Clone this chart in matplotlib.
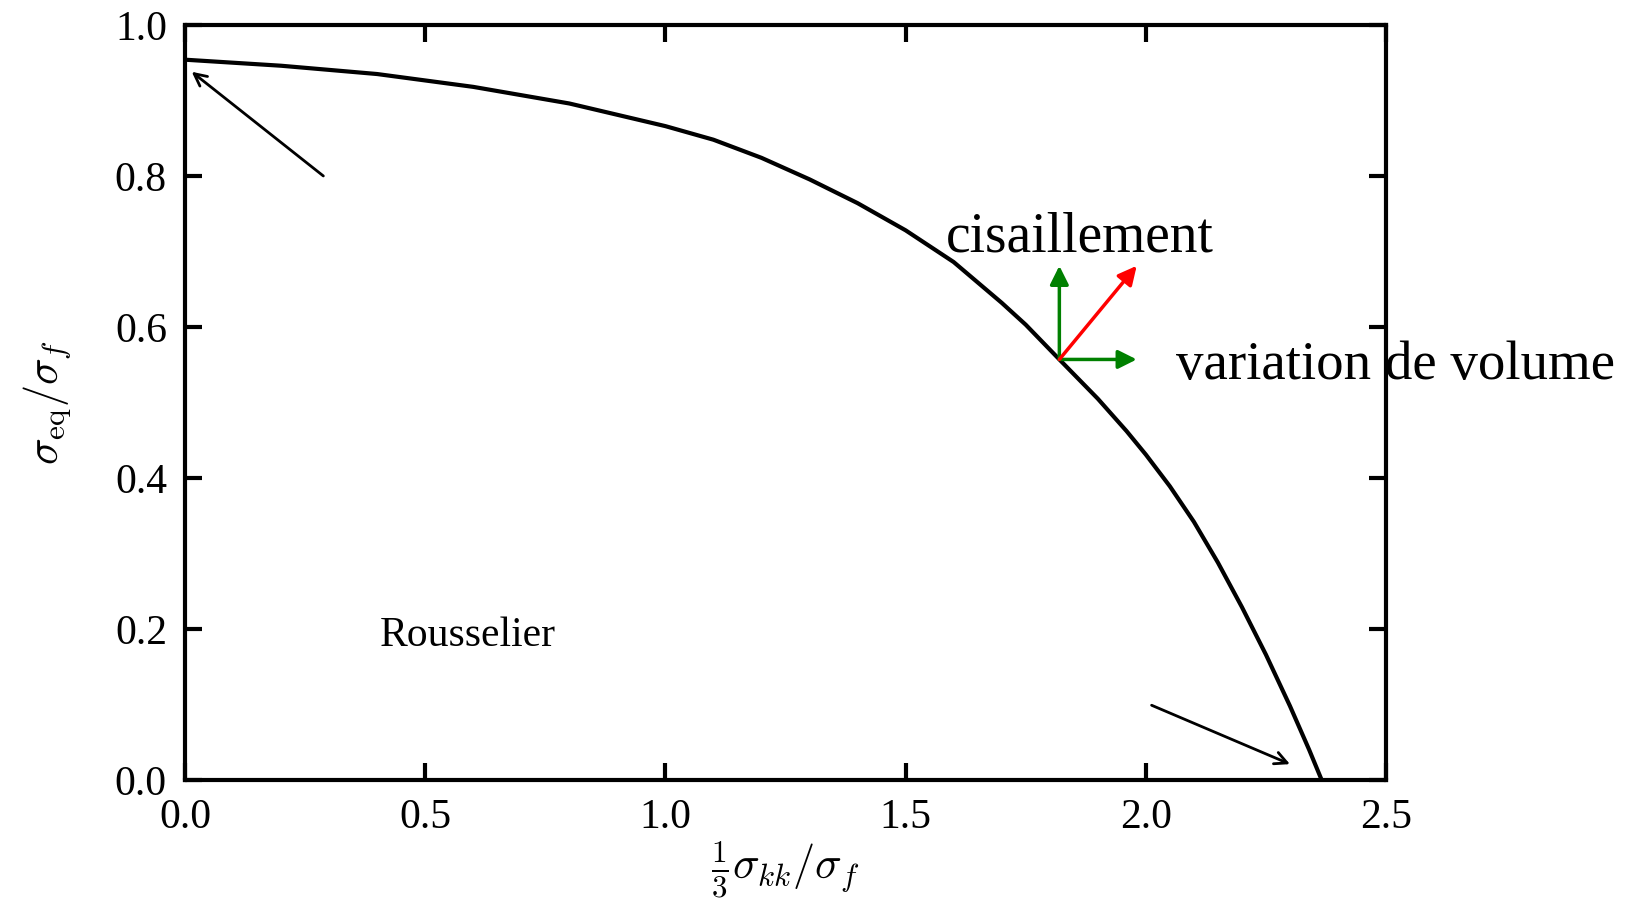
import matplotlib
matplotlib.use('Agg')
import matplotlib.pyplot as plt

# Rousselier yield surface
x_curve = [0.0, 0.2, 0.4, 0.6, 0.8, 1.0, 1.1, 1.2, 1.3, 1.4, 1.5, 1.6,
           1.7, 1.75, 1.82, 1.9, 1.96, 2.0, 2.05, 2.1, 2.15, 2.2, 2.25,
           2.3, 2.34, 2.366]
y_curve = [0.954, 0.946, 0.935, 0.918, 0.896, 0.866, 0.848, 0.824, 0.7955,
           0.764, 0.728, 0.686, 0.632, 0.603, 0.557, 0.505, 0.462, 0.431,
           0.389, 0.342, 0.288, 0.229, 0.166, 0.098, 0.040, 0.0]

x_ticks = [0.0, 0.5, 1.0, 1.5, 2.0, 2.5]
y_ticks = [0.0, 0.2, 0.4, 0.6, 0.8, 1.0]

# black pointer arrows: (tail, head)
pointers = [((0.288, 0.800), (0.014, 0.938)),
            ((2.012, 0.099), (2.300, 0.021))]

# normal / shear / volume arrows at a point of the surface
origin = (1.82, 0.557)
tip_shear = (1.82, 0.681)
tip_volume = (1.981, 0.557)
tip_normal = (1.981, 0.681)

plt.rcParams['font.family'] = 'Liberation Serif'
plt.rcParams['mathtext.fontset'] = 'cm'

fig = plt.figure(figsize=(16.27, 9.01), dpi=100)
ax = fig.add_axes([0.1137, 0.1343, 0.7382, 0.838])

ax.plot(x_curve, y_curve, color='black', lw=3, solid_joinstyle='round')

ax.set_xlim(0, 2.5)
ax.set_ylim(0, 1.0)
ax.set_xticks(x_ticks)
ax.set_yticks(y_ticks)
ax.set_xticklabels([f'{v:.1f}' for v in x_ticks])
ax.set_yticklabels([f'{v:.1f}' for v in y_ticks])
ax.tick_params(direction='in', length=12, width=3, labelsize=30,
               top=True, right=True, pad=13)
for s in ax.spines.values():
    s.set_linewidth(3)

ax.set_xlabel(r'$\frac{1}{3}\sigma_{kk}/\sigma_f$', fontsize=32, labelpad=2)
ax.set_ylabel(r'$\sigma_{\rm eq}/\sigma_f$', fontsize=32, labelpad=30)

for tail, head in pointers:
    ax.annotate('', xy=head, xytext=tail,
                arrowprops=dict(arrowstyle='->', color='black', lw=2,
                                mutation_scale=22, shrinkA=0, shrinkB=0))

for tip, col in [(tip_shear, '#008000'), (tip_volume, '#008000'),
                 (tip_normal, '#ff0000')]:
    ax.annotate('', xy=tip, xytext=origin,
                arrowprops=dict(arrowstyle='-|>', color=col, lw=2.5,
                                mutation_scale=28, shrinkA=0, shrinkB=0))

ax.text(1.584, 0.70, 'cisaillement', fontsize=40, ha='left', va='baseline')
ax.text(2.063, 0.531, 'variation de volume', fontsize=39.5, ha='left',
        va='baseline', clip_on=False)
ax.text(0.406, 0.177, 'Rousselier', fontsize=30, ha='left', va='baseline')

fig.savefig('out.png', dpi=100)
